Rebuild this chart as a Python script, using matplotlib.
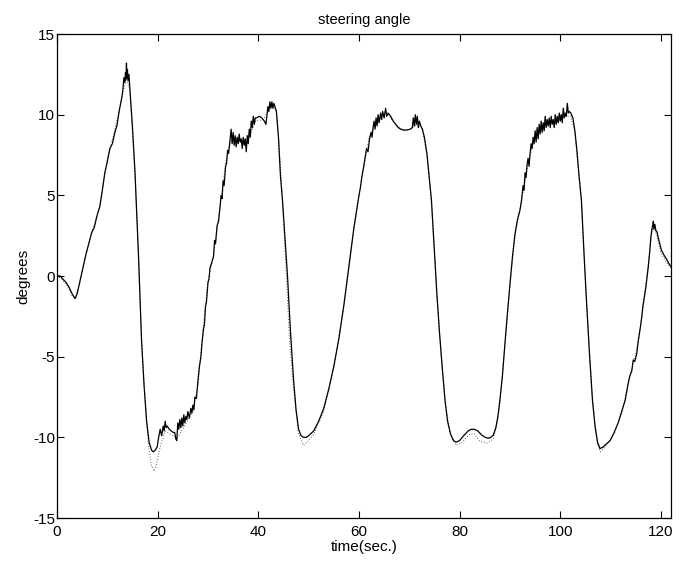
import matplotlib
matplotlib.use('Agg')
import matplotlib.pyplot as plt

plt.rcParams['font.family'] = ['Liberation Sans', 'DejaVu Sans']
plt.rcParams['axes.unicode_minus'] = False

# measured steering angle (solid, noisy)
t_meas = [
    0.0, 0.6, 1.2, 1.8, 2.4, 3.0, 3.6, 4.0, 4.5, 5.2, 5.8, 6.4, 6.9, 7.4, 8.0, 8.5,
    9.0, 9.5, 10.0, 10.5, 11.0, 11.5, 11.9, 12.4, 12.9,
    13.1, 13.3, 13.5, 13.6, 13.7, 13.8, 13.9, 14.0, 14.1, 14.3, 14.5,
    15.0, 15.5, 16.2, 16.8, 17.3, 17.8, 18.3, 18.8, 19.1,
    19.5, 19.9, 20.2, 20.5, 20.8, 21.1, 21.3, 21.5, 21.7, 21.9, 22.3, 22.7, 23.1, 23.4,
    23.6, 23.8, 24.0, 24.2, 24.4, 24.6, 24.8, 25.0, 25.2, 25.4, 25.6, 25.8, 26.0, 26.3,
    26.6, 26.8, 27.0, 27.2, 27.4, 27.7, 28.0,
    28.3, 28.6, 28.8, 29.1, 29.3, 29.5, 29.7, 30.0, 30.2, 30.4, 30.7, 31.1, 31.3, 31.5,
    31.8, 32.1, 32.4, 32.6, 32.8, 33.0, 33.2, 33.5, 33.7, 33.9, 34.1, 34.4, 34.6, 34.8,
    35.0, 35.2, 35.4, 35.6, 35.8, 36.0, 36.2, 36.4, 36.6, 36.8, 37.0, 37.2, 37.4, 37.6,
    37.8, 38.0, 38.2, 38.4, 38.6, 38.8, 39.0, 39.2, 39.4, 39.7, 40.2, 40.7, 41.2, 41.5,
    41.7, 41.9, 42.1, 42.3, 42.5, 42.7, 42.9, 43.1, 43.3, 43.6,
    44.0, 44.4, 44.8, 45.3, 45.8, 46.4, 47.0, 47.5, 48.0, 48.5, 49.0, 49.5, 50.0,
    51.0, 52.0, 53.0, 54.0, 55.0, 56.0, 57.0, 58.0, 59.0, 59.6, 60.0, 60.3, 60.6, 60.9,
    61.2, 61.5, 61.8, 62.1, 62.4, 62.6, 62.8, 63.0, 63.2, 63.4, 63.6, 63.8, 64.0, 64.3,
    64.5, 64.7, 65.0, 65.3, 65.5, 65.8, 66.3, 66.8, 67.3, 67.8, 68.3, 68.8, 69.5, 70.2,
    70.6, 70.8, 71.0, 71.2, 71.4, 71.6, 71.8, 72.0, 72.3, 72.6, 73.0, 73.5, 74.0, 74.4,
    75.0, 75.5, 76.0, 76.5, 77.1, 77.6, 78.2, 78.8, 79.3, 80.0, 80.8, 81.7, 82.3, 82.9,
    83.6, 84.4, 85.1, 85.7, 86.2, 86.7, 87.2, 87.6, 88.0, 88.5, 89.0, 89.5, 90.0, 90.5,
    91.0, 91.5, 92.0, 92.3, 92.6, 92.8, 93.0, 93.2, 93.4, 93.6, 93.8, 94.0, 94.2, 94.4,
    94.6, 94.8, 95.0, 95.2, 95.4, 95.6, 95.8, 96.0, 96.2, 96.4, 96.6, 96.8, 97.0, 97.2,
    97.4, 97.6, 97.8, 98.0, 98.2, 98.4, 98.6, 98.8, 99.0, 99.2, 99.4, 99.6, 99.8, 100.0,
    100.2, 100.4, 100.6, 100.8, 101.0, 101.2, 101.4, 101.6, 101.8, 102.1, 102.5, 102.9,
    103.3, 103.7, 104.2, 104.7, 105.2, 105.8, 106.4, 106.9, 107.4, 107.9, 108.5, 109.2,
    109.9, 110.7, 111.5, 112.2, 112.9, 113.4, 113.8, 114.2, 114.5, 114.8, 115.2, 115.5,
    115.8, 116.0, 116.2, 116.4, 116.6, 116.8, 117.0, 117.2, 117.5, 117.8, 118.0, 118.2,
    118.4, 118.5, 118.6, 118.8, 119.0, 119.2, 119.6, 120.1, 120.6, 121.2, 121.7, 122.0,
]
y_meas = [
    0.0, 0.0, -0.2, -0.4, -0.7, -1.1, -1.4, -1.1, -0.4, 0.6, 1.4, 2.1, 2.7, 3.0, 3.8, 4.3,
    5.3, 6.4, 7.1, 7.9, 8.2, 8.9, 9.3, 10.3, 11.1,
    11.6, 12.3, 12.0, 12.6, 12.2, 13.2, 12.3, 12.8, 12.1, 12.5, 11.5,
    9.2, 6.4, 1.2, -4.0, -6.8, -9.0, -10.3, -10.8, -10.9,
    -10.8, -10.6, -10.0, -9.5, -9.9, -9.3, -9.6, -9.0, -9.4, -9.3, -9.5, -9.6, -9.7, -9.7,
    -10.1, -10.2, -9.1, -9.5, -8.9, -9.4, -8.8, -9.3, -8.6, -9.1, -8.7, -8.9, -8.4, -8.8,
    -8.2, -8.5, -8.0, -8.3, -7.5, -7.6, -6.5,
    -5.6, -5.0, -4.2, -3.3, -3.0, -1.9, -1.6, -0.4, -0.2, 0.5, 0.8, 1.2, 2.2, 2.0,
    3.1, 3.4, 4.3, 5.0, 4.8, 5.9, 5.6, 6.8, 7.0, 7.8, 7.6, 8.5, 9.1, 8.2,
    8.9, 8.1, 8.7, 8.0, 8.6, 8.2, 8.8, 8.3, 8.5, 7.9, 8.6, 8.1, 8.5, 7.7,
    8.7, 8.2, 9.1, 8.6, 9.6, 9.2, 9.9, 9.4, 9.8, 9.8, 9.9, 9.8, 9.6, 9.4,
    9.9, 10.5, 10.2, 10.8, 10.4, 10.8, 10.4, 10.7, 10.5, 10.2,
    8.6, 6.2, 4.7, 2.3, 0.0, -3.5, -6.4, -8.3, -9.5, -9.9, -10.0, -10.0, -9.9,
    -9.6, -9.0, -8.2, -7.0, -5.6, -3.9, -1.8, 0.6, 3.0, 4.2, 5.0, 5.5, 6.2, 6.7,
    7.3, 7.9, 7.7, 8.5, 8.9, 8.6, 9.2, 9.6, 9.1, 9.8, 9.3, 10.0, 9.5, 10.1,
    9.7, 10.2, 9.8, 10.4, 9.9, 10.1, 9.9, 9.6, 9.4, 9.2, 9.1, 9.05, 9.05, 9.1,
    9.2, 9.8, 9.3, 10.0, 9.4, 9.9, 9.2, 9.6, 9.3, 9.1, 8.6, 7.6, 6.0, 4.7,
    1.5, -1.2, -3.5, -5.5, -7.7, -9.0, -9.8, -10.2, -10.3, -10.2, -9.9, -9.6, -9.5, -9.5,
    -9.6, -9.86, -10.0, -10.06, -10.0, -9.86, -9.4, -8.7, -7.7, -6.2, -4.2, -2.3, -0.5, 1.2,
    2.6, 3.5, 4.1, 4.7, 5.6, 5.3, 6.4, 6.1, 6.9, 7.3, 6.8, 7.6, 8.2, 7.9,
    8.6, 8.2, 9.0, 8.3, 9.2, 8.5, 9.4, 8.8, 9.6, 8.9, 9.5, 9.0, 9.9, 9.2,
    9.7, 9.3, 9.8, 9.2, 9.9, 9.4, 9.7, 9.2, 10.0, 9.4, 9.9, 9.5, 10.1, 9.6,
    10.0, 9.5, 10.4, 9.8, 10.1, 9.9, 10.7, 10.1, 10.2, 10.1, 9.8, 9.0,
    7.8, 6.3, 4.7, 1.5, -1.5, -4.8, -7.7, -9.3, -10.3, -10.7, -10.6, -10.4,
    -10.2, -9.7, -9.1, -8.4, -7.7, -6.8, -6.2, -5.9, -5.2, -5.3, -4.8, -4.0,
    -3.4, -3.0, -2.5, -1.9, -1.5, -1.1, -0.7, -0.2, 0.6, 1.6, 2.4, 2.9,
    3.2, 3.4, 2.9, 3.2, 2.8, 2.75, 2.2, 1.6, 1.3, 1.0, 0.7, 0.6,
]

# reference / model steering angle (dotted)
t_ref = [
    0.0, 1.0, 2.0, 3.0, 3.6, 4.5, 5.5, 7.0, 8.5, 10.0, 11.5, 13.0, 13.8, 14.5, 15.5,
    16.2, 16.8, 17.5, 18.2, 18.8, 19.3, 19.8, 20.5, 21.5, 23.0, 24.0, 25.5, 27.0, 28.0,
    29.0, 30.0, 31.0, 32.4, 33.5, 34.5, 36.0, 38.0, 39.5, 41.0, 42.5, 43.5, 44.0, 44.8,
    45.5, 46.2, 47.0, 48.0, 49.0, 50.0, 51.0, 53.0, 55.0, 57.0, 58.0, 59.0, 60.5, 62.0,
    63.5, 65.8, 67.3, 68.8, 70.2, 71.5, 72.6, 73.5, 74.4, 75.5, 76.5, 77.1, 78.2, 79.3,
    80.5, 82.0, 83.0, 84.0, 85.5, 86.7, 87.6, 88.0, 89.0, 90.0, 91.0, 92.3, 93.5, 95.0,
    97.0, 99.0, 101.0, 102.1, 102.9, 104.2, 105.2, 106.4, 107.4, 108.0, 109.2, 110.7,
    112.2, 113.8, 115.5, 116.8, 118.0, 118.5, 119.2, 120.0, 121.0, 122.0,
]
y_ref = [
    0.0, -0.2, -0.6, -1.2, -1.4, -0.5, 1.1, 2.8, 4.3, 7.2, 9.1, 11.2, 12.3, 11.5, 6.4,
    1.2, -4.0, -7.6, -10.6, -11.8, -12.1, -11.6, -10.6, -9.6, -9.9, -10.0, -9.2, -8.4, -6.8,
    -3.4, -0.3, 1.1, 4.3, 7.0, 8.4, 8.4, 8.5, 9.6, 9.7, 10.5, 10.3, 8.8, 4.7,
    0.5, -4.0, -7.0, -9.8, -10.5, -10.2, -9.8, -8.4, -5.7, -1.9, 0.5, 2.9, 6.0, 8.6,
    9.5, 10.0, 9.4, 9.0, 9.1, 9.4, 9.1, 7.5, 4.6, -1.3, -5.6, -7.8, -9.9, -10.5,
    -10.3, -9.8, -9.8, -10.25, -10.35, -10.1, -8.9, -7.9, -4.3, -0.6, 2.5, 4.6, 6.8, 8.7,
    9.4, 9.6, 9.9, 9.9, 8.9, 4.6, -1.6, -7.8, -10.4, -10.9, -10.5, -9.8,
    -8.5, -6.3, -4.1, -1.2, 2.3, 3.1, 2.5, 1.4, 0.9, 0.5,
]

fig = plt.figure(figsize=(6.84, 5.62), dpi=100)
ax = fig.add_axes([57 / 684, 44 / 562, 614 / 684, 484 / 562])

ax.plot(t_ref, y_ref, color='black', linestyle=(0, (0.6, 2.2)), linewidth=0.7)
ax.plot(t_meas, y_meas, color='black', linewidth=0.9)

ax.set_xlim(0, 122)
ax.set_ylim(-15, 15)
ax.set_xticks([0, 20, 40, 60, 80, 100, 120])
ax.set_yticks([-15, -10, -5, 0, 5, 10, 15])
ax.tick_params(direction='in', length=5, width=0.8, top=True, right=True,
               labelsize=11)
ax.tick_params(axis='x', pad=5)
ax.tick_params(axis='y', pad=1.5)
for s in ax.spines.values():
    s.set_linewidth(0.9)

ax.set_title('steering angle', fontsize=10.5, pad=7)
ax.set_xlabel('time(sec.)', fontsize=11, labelpad=1)
ax.set_ylabel('degrees', fontsize=11, labelpad=2)

plt.savefig('out.png', dpi=100, facecolor='white')
